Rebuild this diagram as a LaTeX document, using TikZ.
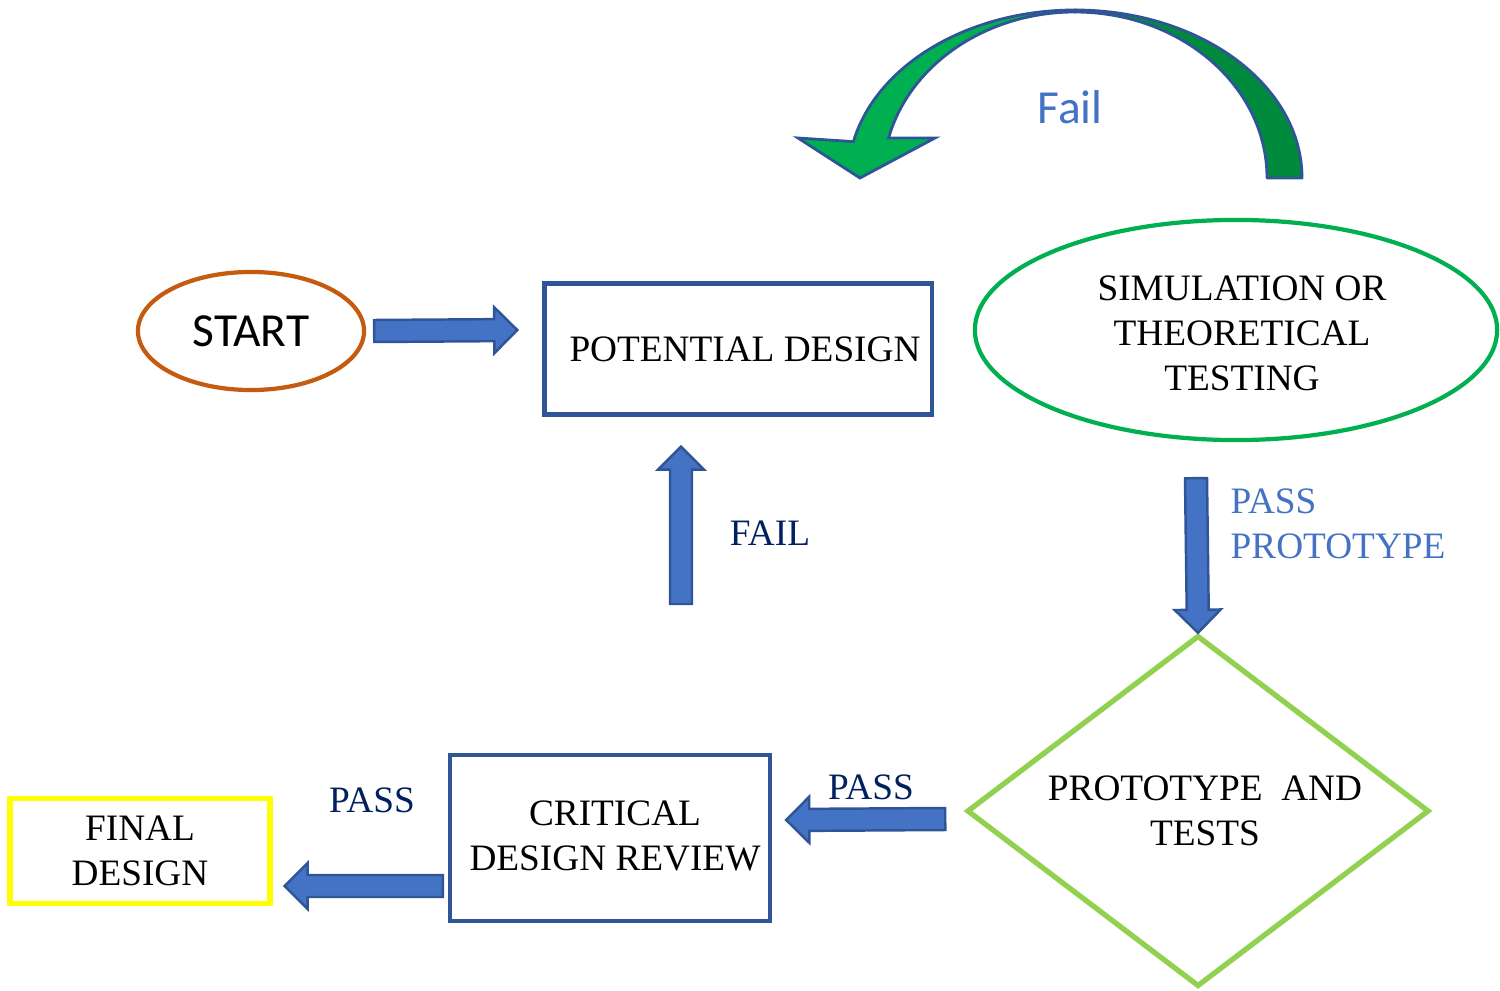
\documentclass[tikz,border=0pt]{standalone}
\usepackage{fontspec}
\setmainfont{Liberation Serif}
\newfontfamily\calibri{Carlito}
\usetikzlibrary{shapes.geometric,calc,positioning}
\definecolor{boxblue}{HTML}{2F5597}
\definecolor{arrowblue}{HTML}{4472C4}
\definecolor{navy}{HTML}{002060}
\definecolor{startorange}{HTML}{C55A11}
\definecolor{simgreen}{HTML}{00B050}
\definecolor{darkgreen}{HTML}{008A3E}
\definecolor{protogreen}{HTML}{92D050}
\definecolor{finalyellow}{HTML}{FFFF00}

\tikzset{
  serif/.style={font=\fontsize{10.6}{12.8}\selectfont, align=center, inner sep=0pt},
  sans/.style={font=\calibri\fontsize{13.5}{16}\selectfont, inner sep=0pt},
  blockarrow/.style={draw=boxblue, fill=arrowblue, line width=0.7pt, line join=miter},
  stagebox/.style={draw=boxblue, line width=1.2pt, rectangle, serif},
}

% block arrow from tail #1 to tip #2
\newcommand{\blockarr}[2]{%
  \coordinate (hb) at ($(#2)!0.23cm!(#1)$);
  \draw[blockarrow] ($(#1)!0.11cm!90:(#2)$) -- ($(hb)!0.11cm!90:(#2)$)
    -- ($(hb)!0.23cm!90:(#2)$) -- (#2) -- ($(hb)!0.23cm!-90:(#2)$)
    -- ($(hb)!0.11cm!-90:(#2)$) -- ($(#1)!0.11cm!-90:(#2)$) -- cycle;}

\begin{document}
\begin{tikzpicture}[x=0.01cm,y=0.01cm]
  \useasboundingbox (0,0) rectangle (1500,-991);

  % Stages
  \node[ellipse, draw=startorange, line width=1.2pt, minimum width=2.26cm, minimum height=1.18cm, sans]
    (start) at (251,-331) {START};
  \node[stagebox, minimum width=3.87cm, minimum height=1.31cm] (potential) at (738,-349) {};
  \node[serif] (potentialtxt) at (745,-349) {POTENTIAL DESIGN};
  \node[ellipse, draw=simgreen, line width=1.2pt, minimum width=5.22cm, minimum height=2.2cm]
    (simul) at (1236,-330) {};
  \node[serif] (simultxt) at (1242,-333) {SIMULATION OR\\THEORETICAL\\TESTING};
  \node[diamond, draw=protogreen, line width=1.5pt, minimum width=4.62cm, minimum height=3.51cm, inner sep=0pt]
    (proto) at (1198,-811) {};
  \node[serif] (prototxt) at (1205,-811) {PROTOTYPE\ \ AND\\TESTS};
  \node[stagebox, minimum width=3.2cm, minimum height=1.66cm] (review) at (610,-838) {};
  \node[serif] (reviewtxt) at (615,-836) {CRITICAL\\DESIGN REVIEW};
  \node[draw=finalyellow, line width=1.5pt, minimum width=2.6cm, minimum height=1.05cm, serif]
    (final) at (140,-851) {FINAL\\DESIGN};

  % Block arrows
  \coordinate (s1) at ($(start.east)+(8,0)$);
  \coordinate (t1) at ($(potential.west)+(-25,19)$);
  \coordinate (s2) at (681,-604);
  \coordinate (t2) at ($(potential.south)+(-57,-30)$);
  \coordinate (s3) at ($(simul.south)+(-40,-36)$);
  \coordinate (t3) at (proto.north);
  \coordinate (s4) at ($(proto.west)+(-19,-8)$);
  \coordinate (t4) at ($(review.east)+(14,18)$);
  \coordinate (s5) at ($(review.west)+(-5,-48)$);
  \coordinate (t5) at ($(final.east)+(12,-35)$);
  \foreach \a/\b in {s1/t1,s2/t2,s3/t3,s4/t4,s5/t5} {
    \blockarr{\a}{\b}
  }

  % Labels
  \node[serif, text=navy] (failtxt) at (770,-533) {FAIL};
  \node[serif, text=arrowblue, anchor=west, align=left] (passproto) at (1230,-524) {PASS\\PROTOTYPE};
  \node[serif, text=navy] (pass1) at (871,-787) {PASS};
  \node[serif, text=navy] (pass2) at (372,-800) {PASS};

  % Curved return arrow
  \draw[draw=boxblue, line width=0.8pt, fill=darkgreen, line join=round]
    (1302,-178) arc[start angle=0, end angle=90, x radius=227, y radius=168]
    -- (1075,-12) arc[start angle=90, end angle=0, x radius=192, y radius=166] -- cycle;
  \draw[draw=boxblue, line width=0.8pt, fill=simgreen, line join=miter]
    (1075,-10) arc[start angle=90, end angle=167.5, x radius=227, y radius=168]
    -- (798,-138) -- (860,-178) -- (935,-138) -- (888.6,-138)
    arc[start angle=166.06, end angle=90, x radius=192, y radius=166] -- cycle;
  \node[sans, text=arrowblue] (failback) at (1070,-107) {Fail};
\end{tikzpicture}
\end{document}
